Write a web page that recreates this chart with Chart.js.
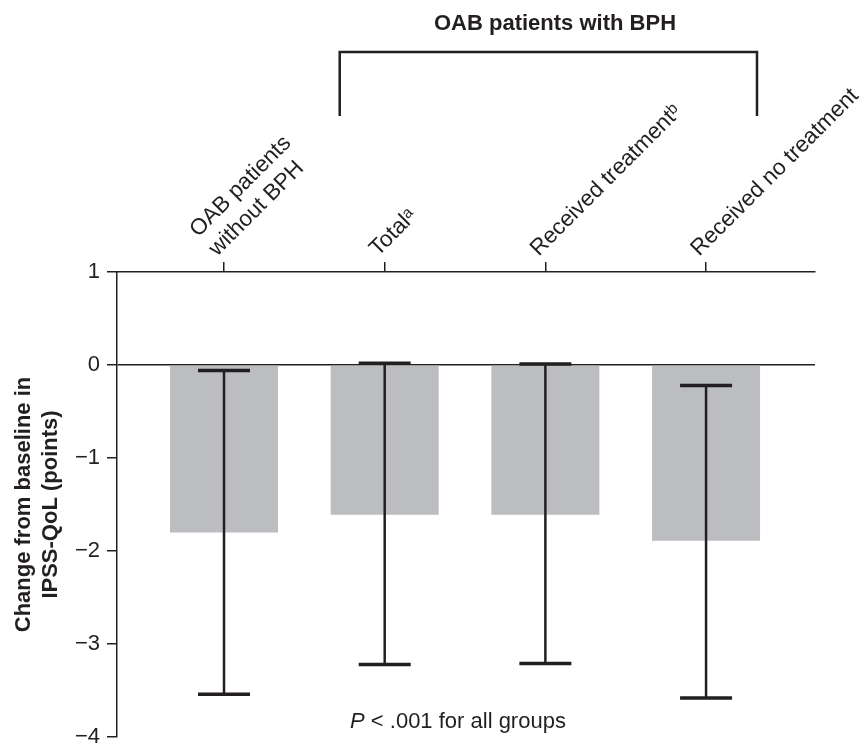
<!DOCTYPE html>
<html>
<head>
<meta charset="utf-8">
<script src="https://cdn.jsdelivr.net/npm/chart.js@4/dist/chart.umd.min.js"></script>
<style>
  html, body { margin: 0; padding: 0; background: #fff; }
  #wrap { width: 860px; height: 743px; }
</style>
</head>
<body>
<div id="wrap"><canvas id="qolChart" width="860" height="743"></canvas></div>
<script>
// Groups along the top axis and values
const groupLabels = [
    ['OAB patients', 'without BPH'],
    'Totalᵃ',
    'Received treatmentᵇ',
    'Received no treatment'
];
const meanChange = [-1.80, -1.61, -1.61, -1.89];
const ciUpper = [-0.06, 0.02, 0.01, -0.22];
const ciLower = [-3.54, -3.22, -3.21, -3.58];
const yTicks = [1, 0, -1, -2, -3, -4];

const ink = '#231f20';
const family = '"Liberation Sans", Arial, Helvetica, sans-serif';

// Error bars, the BPH bracket and the footnote
const extras = {
    id: 'extras',
    afterDatasetsDraw(chart) {
        const { ctx, scales: { x, y } } = chart;
        ctx.save();
        ctx.strokeStyle = ink;
        ctx.fillStyle = ink;

        meanChange.forEach((m, i) => {
            const px = x.getPixelForValue(i);
            const top = y.getPixelForValue(ciUpper[i]);
            const bot = y.getPixelForValue(ciLower[i]);
            ctx.lineWidth = 2.5;
            ctx.beginPath();
            ctx.moveTo(px, top);
            ctx.lineTo(px, bot);
            ctx.stroke();
            ctx.lineWidth = 3.5;
            ctx.beginPath();
            ctx.moveTo(px - 26, top); ctx.lineTo(px + 26, top);
            ctx.moveTo(px - 26, bot); ctx.lineTo(px + 26, bot);
            ctx.stroke();
        });

        // bracket over the BPH groups
        const bl = x.getPixelForValue(0.72);
        const br = x.getPixelForValue(3.317);
        ctx.lineWidth = 2.5;
        ctx.beginPath();
        ctx.moveTo(bl, 116);
        ctx.lineTo(bl, 52);
        ctx.lineTo(br, 52);
        ctx.lineTo(br, 116);
        ctx.stroke();

        ctx.font = 'bold 22px ' + family;
        ctx.textAlign = 'center';
        ctx.textBaseline = 'middle';
        ctx.fillText('OAB patients with BPH', x.getPixelForValue(2.06), 24);

        // footnote with italic P
        const italicFont = 'italic 22px ' + family;
        const plainFont = '22px ' + family;
        const rest = ' < .001 for all groups';
        ctx.font = italicFont;
        const wP = ctx.measureText('P').width;
        ctx.font = plainFont;
        const wRest = ctx.measureText(rest).width;
        let sx = x.getPixelForValue(1.456) - (wP + wRest) / 2;
        ctx.textAlign = 'left';
        ctx.textBaseline = 'alphabetic';
        ctx.font = italicFont;
        ctx.fillText('P', sx, 728);
        ctx.font = plainFont;
        ctx.fillText(rest, sx + wP, 728);
        ctx.restore();
    }
};

new Chart(document.getElementById('qolChart'), {
    type: 'bar',
    data: {
        datasets: [{
            data: meanChange.map((v, i) => ({ x: i, y: v })),
            backgroundColor: '#bcbdc1',
            borderWidth: 0,
            barPercentage: 0.672,
            categoryPercentage: 1
        }]
    },
    options: {
        responsive: false,
        animation: false,
        layout: { padding: { top: 0, right: 45, bottom: 0, left: 0 } },
        plugins: {
            legend: { display: false },
            tooltip: { enabled: false }
        },
        scales: {
            x: {
                type: 'linear',
                position: 'top',
                offset: false,
                min: -0.666,
                max: 3.678,
                afterBuildTicks: s => { s.ticks = groupLabels.map((_, i) => ({ value: i })); },
                afterFit: s => { s.height = 272; s.paddingLeft = 0; s.paddingRight = 0; },
                grid: { offset: false, drawOnChartArea: false, tickLength: 10, color: ink, lineWidth: 1.5 },
                border: { color: ink, width: 1.5 },
                ticks: {
                    autoSkip: false,
                    minRotation: 45,
                    maxRotation: 45,
                    padding: 0,
                    labelOffset: 8,
                    color: ink,
                    font: { family: family, size: 22.5 },
                    callback: v => groupLabels[v]
                }
            },
            y: {
                min: -4,
                max: 1,
                afterBuildTicks: s => { s.ticks = yTicks.map(v => ({ value: v })); },
                afterFit: s => { s.width = 117; s.paddingTop = 0; s.paddingBottom = 6; },
                grid: {
                    color: c => (c.tick && c.tick.value === 0) ? ink : 'rgba(0,0,0,0)',
                    tickColor: ink,
                    tickLength: 10,
                    lineWidth: 1.5
                },
                border: { color: ink, width: 1.5 },
                ticks: {
                    padding: 7,
                    color: ink,
                    font: { family: family, size: 22 },
                    callback: v => v < 0 ? '\u2212' + Math.abs(v) : String(v)
                },
                title: {
                    display: true,
                    text: ['Change from baseline in', 'IPSS-QoL (points)'],
                    color: ink,
                    font: { family: family, size: 22, weight: 'bold', lineHeight: 1.2 },
                    padding: { top: 11, bottom: 0 }
                }
            }
        }
    },
    plugins: [extras]
});
</script>
</body>
</html>
